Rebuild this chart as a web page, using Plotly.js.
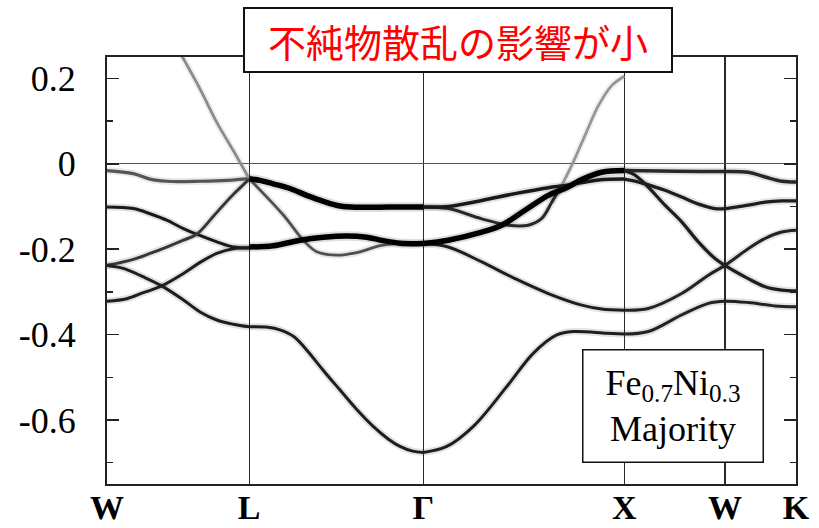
<!DOCTYPE html>
<html>
<head>
<meta charset="utf-8">
<script src="https://cdn.plot.ly/plotly-3.0.1.min.js"></script>
<style>
  html, body { margin: 0; padding: 0; background: #fff; }
  #chart { width: 819px; height: 528px; }
</style>
</head>
<body>
<div id="chart"></div>
<script>
// High-symmetry points along the fcc path W–L–Γ–X–W–K (path length, 2π/a units)
const kSym = [0, 0.7071, 1.5731, 2.5731, 3.0731, 3.4267];
const kLabels = ['W', 'L', 'Γ', 'X', 'W', 'K'];

// Energy axis ticks (Ry, relative to E_F)
const yTickVals = [0.2, 0, -0.2, -0.4, -0.6];
const yTickText = ['0.2', '0', '-0.2', '-0.4', '-0.6'];
const yMinorVals = [0.1, -0.1, -0.3, -0.5, -0.7];

// ---- Band ridges of the Bloch spectral function ----
// W–L
const wlA_k = [0, 0.131, 0.214, 0.297, 0.463, 0.600, 0.7071];
const wlA_e = [-0.016, -0.023, -0.036, -0.041, -0.041, -0.039, -0.035];
const wlS_k = [0.350, 0.372, 0.463, 0.546, 0.628, 0.7071];
const wlS_e = [0.272, 0.253, 0.175, 0.097, 0.031, -0.035];
const wlB_k = [0, 0.131, 0.214, 0.297, 0.380, 0.446, 0.546, 0.628, 0.7071];
const wlB_e = [-0.101, -0.105, -0.117, -0.132, -0.152, -0.165, -0.183, -0.195, -0.197];
const wlC_k = [0, 0.131, 0.214, 0.297, 0.380, 0.446, 0.529, 0.578, 0.628, 0.7071];
const wlC_e = [-0.238, -0.224, -0.210, -0.195, -0.179, -0.165, -0.123, -0.097, -0.072, -0.036];
const wlD_k = [0, 0.081, 0.181, 0.272, 0.380, 0.463, 0.546, 0.628, 0.7071];
const wlD_e = [-0.238, -0.245, -0.265, -0.286, -0.319, -0.347, -0.366, -0.376, -0.382];
const wlE_k = [0, 0.098, 0.181, 0.272, 0.380, 0.463, 0.546, 0.628, 0.7071];
const wlE_e = [-0.322, -0.316, -0.302, -0.286, -0.257, -0.231, -0.210, -0.199, -0.197];

// L–Γ
const lgTop_k = [0.7071, 0.761, 0.827, 0.910, 0.993, 1.076, 1.159, 1.242, 1.400, 1.5731];
const lgTop_e = [-0.035, -0.039, -0.047, -0.058, -0.074, -0.088, -0.099, -0.102, -0.101, -0.101];
const lgS_k = [0.7071, 0.877, 0.976, 1.043, 1.142, 1.242, 1.358, 1.441, 1.5731];
const lgS_e = [-0.035, -0.120, -0.179, -0.206, -0.214, -0.208, -0.192, -0.187, -0.187];
const lgHump_k = [0.7071, 0.827, 0.960, 1.076, 1.192, 1.291, 1.374, 1.457, 1.5731];
const lgHump_e = [-0.195, -0.192, -0.179, -0.172, -0.169, -0.172, -0.180, -0.186, -0.187];
const lgLow_k = [0.7071, 0.800, 0.860, 0.930, 0.993, 1.076, 1.159, 1.241, 1.324, 1.400, 1.457, 1.520, 1.5731];
const lgLow_e = [-0.382, -0.383, -0.389, -0.405, -0.436, -0.484, -0.530, -0.575, -0.615, -0.645, -0.662, -0.673, -0.676];

// Γ–X
const gxA_k = [1.5731, 1.697, 1.864, 1.963, 2.079, 2.195, 2.278, 2.361, 2.460, 2.5731];
const gxA_e = [-0.187, -0.179, -0.160, -0.144, -0.109, -0.074, -0.058, -0.037, -0.020, -0.016];
const gxB_k = [1.5731, 1.697, 1.864, 2.029, 2.195, 2.278, 2.444, 2.5731];
const gxB_e = [-0.101, -0.100, -0.086, -0.070, -0.056, -0.051, -0.038, -0.036];
const gxS1_k = [1.5731, 1.697, 1.864, 1.996, 2.095, 2.162, 2.212, 2.261];
const gxS1_e = [-0.101, -0.105, -0.129, -0.144, -0.144, -0.128, -0.090, -0.051];
const gxS2_k = [2.212, 2.261, 2.311, 2.377, 2.444, 2.510, 2.5731];
const gxS2_e = [-0.090, -0.051, -0.004, 0.066, 0.136, 0.183, 0.205];
const gxD_k = [1.5731, 1.697, 1.864, 2.029, 2.195, 2.361, 2.460, 2.5731];
const gxD_e = [-0.187, -0.195, -0.230, -0.269, -0.304, -0.331, -0.340, -0.343];
const gxLow_k = [1.5731, 1.690, 1.822, 1.988, 2.120, 2.237, 2.319, 2.485, 2.5731];
const gxLow_e = [-0.676, -0.662, -0.615, -0.522, -0.444, -0.401, -0.393, -0.397, -0.399];

// X–W–K
const xwTop_k = [2.5731, 2.750, 2.950, 3.0731, 3.189, 3.273, 3.356, 3.4267];
const xwTop_e = [-0.016, -0.017, -0.018, -0.018, -0.020, -0.031, -0.041, -0.043];
const xwSteep_k = [2.5731, 2.620, 2.676, 2.775, 2.858, 2.941, 3.024, 3.0731, 3.189, 3.273, 3.356, 3.4267];
const xwSteep_e = [-0.016, -0.025, -0.047, -0.097, -0.136, -0.183, -0.222, -0.238, -0.269, -0.288, -0.296, -0.298];
const xwMod_k = [2.5731, 2.620, 2.676, 2.775, 2.858, 2.958, 3.024, 3.0731, 3.189, 3.273, 3.356, 3.4267];
const xwMod_e = [-0.036, -0.040, -0.047, -0.062, -0.078, -0.097, -0.105, -0.105, -0.097, -0.090, -0.087, -0.087];
const xwD_k = [2.5731, 2.692, 2.858, 2.991, 3.0731, 3.189, 3.273, 3.356, 3.4267];
const xwD_e = [-0.343, -0.339, -0.304, -0.261, -0.238, -0.199, -0.175, -0.160, -0.156];
const xwLow_k = [2.5731, 2.692, 2.858, 2.991, 3.0731, 3.189, 3.322, 3.4267];
const xwLow_e = [-0.399, -0.393, -0.354, -0.327, -0.322, -0.325, -0.333, -0.335];

// Drawing style for each ridge: grey level (0 = black) and core width
const ridges = [
  { k: wlA_k, e: wlA_e, g: 85, w: 3.2 },
  { k: wlS_k, e: wlS_e, g: 140, w: 2.8 },
  { k: wlB_k, e: wlB_e, g: 25, w: 3 },
  { k: wlC_k, e: wlC_e, g: 55, w: 3 },
  { k: wlD_k, e: wlD_e, g: 30, w: 3 },
  { k: wlE_k, e: wlE_e, g: 30, w: 3 },
  { k: lgS_k, e: lgS_e, g: 80, w: 2.8 },
  { k: lgLow_k, e: lgLow_e, g: 30, w: 3 },
  { k: lgTop_k, e: lgTop_e, g: 0, w: 5.5 },
  { k: lgHump_k, e: lgHump_e, g: 0, w: 5.5 },
  { k: gxS2_k, e: gxS2_e, g: 150, w: 2.8 },
  { k: gxS1_k, e: gxS1_e, g: 40, w: 3 },
  { k: gxB_k, e: gxB_e, g: 25, w: 3.5 },
  { k: gxD_k, e: gxD_e, g: 30, w: 3 },
  { k: gxLow_k, e: gxLow_e, g: 30, w: 3 },
  { k: gxA_k, e: gxA_e, g: 0, w: 5.5 },
  { k: xwTop_k, e: xwTop_e, g: 40, w: 3.5 },
  { k: xwMod_k, e: xwMod_e, g: 30, w: 3.3 },
  { k: xwSteep_k, e: xwSteep_e, g: 30, w: 3.3 },
  { k: xwD_k, e: xwD_e, g: 35, w: 3 },
  { k: xwLow_k, e: xwLow_e, g: 35, w: 3 }
];

const traces = [];
// soft halo first, then the sharp core on top
ridges.forEach(r => {
  traces.push({
    x: r.k, y: r.e, type: 'scatter', mode: 'lines',
    line: { shape: 'spline', smoothing: 1, width: r.w + 4,
            color: `rgba(${r.g},${r.g},${r.g},0.13)` },
    hoverinfo: 'skip', showlegend: false
  });
});
ridges.forEach(r => {
  traces.push({
    x: r.k, y: r.e, type: 'scatter', mode: 'lines',
    line: { shape: 'spline', smoothing: 1, width: r.w,
            color: `rgb(${r.g},${r.g},${r.g})` },
    hoverinfo: 'skip', showlegend: false
  });
});

const serif = 'Liberation Serif';

const layout = {
  width: 819, height: 528,
  margin: { l: 107, r: 23, t: 57, b: 44 },
  paper_bgcolor: '#fff', plot_bgcolor: '#fff',
  showlegend: false,
  xaxis: {
    range: [kSym[0], kSym[kSym.length - 1]],
    tickmode: 'array', tickvals: kSym, ticktext: kLabels,
    ticks: '', showgrid: true, gridcolor: '#2a2a2a', gridwidth: 1.3,
    zeroline: false, showline: true, mirror: true,
    linecolor: '#222', linewidth: 2,
    tickfont: { family: serif, size: 34, color: '#000', weight: 'bold' },
    ticklabelstandoff: -8,
    fixedrange: true
  },
  yaxis: {
    range: [-0.75, 0.25],
    tickmode: 'array', tickvals: yTickVals, ticktext: yTickText,
    ticks: 'inside', ticklen: 12, tickwidth: 1.5, tickcolor: '#222',
    minor: { tickmode: 'array', tickvals: yMinorVals, ticks: 'inside', ticklen: 6, tickwidth: 1.5, tickcolor: '#222' },
    showgrid: false,
    zeroline: true, zerolinecolor: '#555', zerolinewidth: 1,
    showline: true, mirror: 'ticks', linecolor: '#222', linewidth: 2,
    tickfont: { family: serif, size: 36, color: '#000' },
    ticklabelstandoff: 22,
    fixedrange: true
  },
  annotations: [
    {
      text: '不純物散乱の影響が小',
      xref: 'paper', yref: 'paper', x: 0.5094, y: 1.039,
      xanchor: 'center', yanchor: 'middle', showarrow: false,
      font: { family: 'Noto Sans CJK JP', size: 38, color: '#ff0000' },
      bgcolor: '#fff', bordercolor: '#111', borderwidth: 2, borderpad: 0,
      width: 426, height: 62
    },
    {
      text: 'Fe<sub>0.7</sub>Ni<sub>0.3</sub><br>Majority',
      xref: 'paper', yref: 'paper', x: 0.8215, y: 0.182,
      xanchor: 'center', yanchor: 'middle', showarrow: false,
      font: { family: serif, size: 36, color: '#000' },
      bgcolor: '#fff', bordercolor: '#111', borderwidth: 1.5, borderpad: 0,
      width: 179, height: 111
    }
  ]
};

Plotly.newPlot('chart', traces, layout, { staticPlot: true, displayModeBar: false });
</script>
</body>
</html>
